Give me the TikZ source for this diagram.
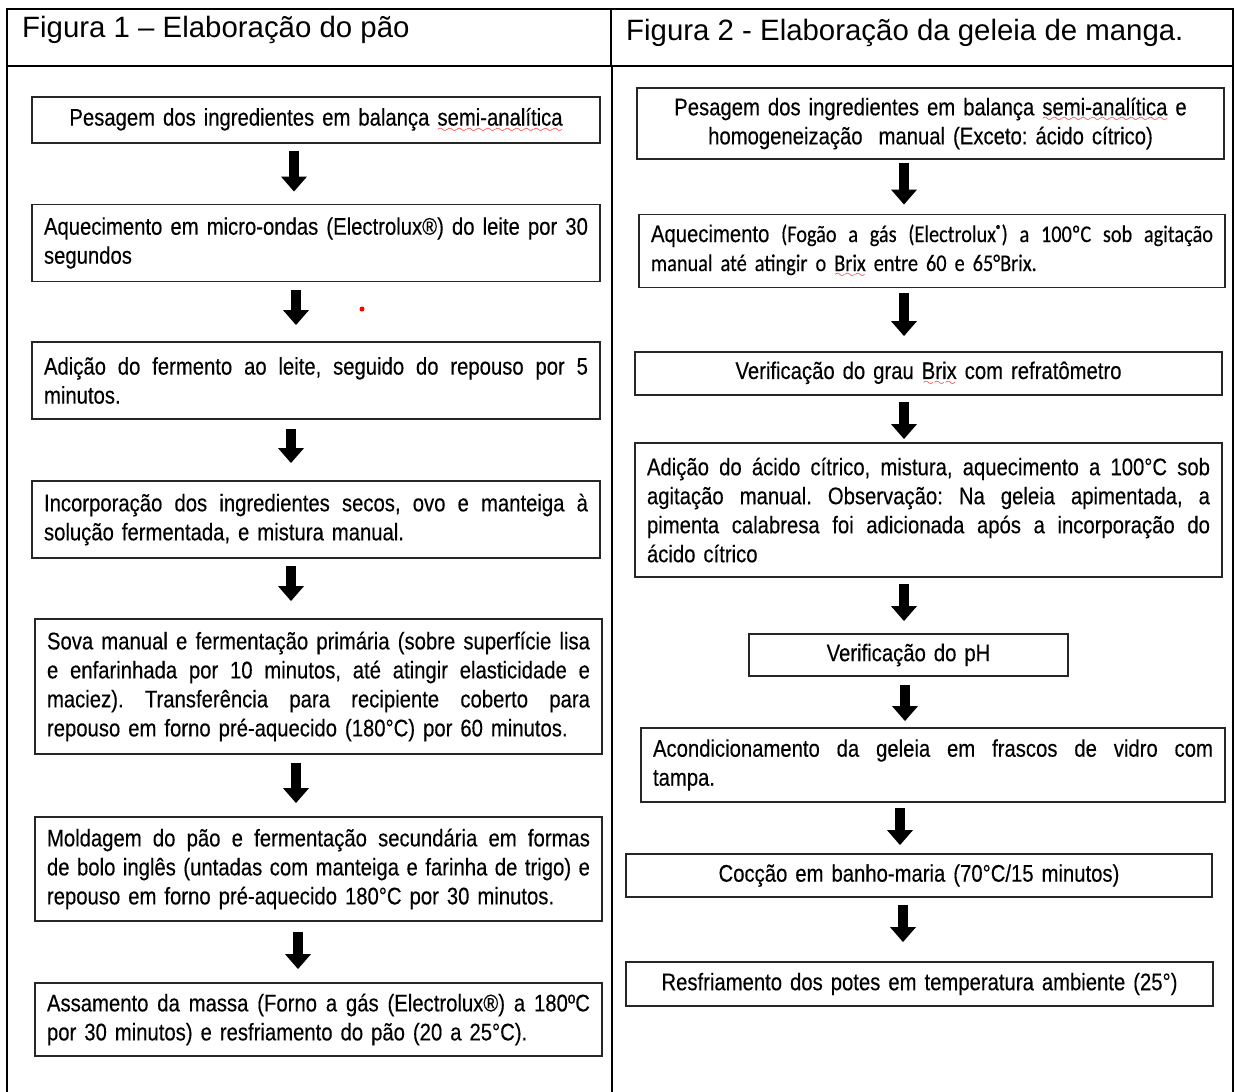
\documentclass[tikz,border=0pt]{standalone}
\usepackage{fontspec}
\setmainfont{Liberation Sans}
\newfontfamily\titlefont{Liberation Sans}
\newfontfamily\boxfont[FakeStretch=0.845,FakeBold=0.3]{Liberation Sans}
\newfontfamily\carlfont[FakeStretch=0.845,FakeBold=0.3]{Carlito}
\usetikzlibrary{arrows.meta}
\font\wavefnt=lasy6 scaled 1800
\newcommand\redwave[1]{\setbox0\hbox{#1}\rlap{\color{red}\lower6.5pt\hbox to\wd0{\xleaders\hbox{\wavefnt\char58}\hfill}}\box0\relax}
\newcommand\jline[1]{\leavevmode\hbox to\hsize{\spaceskip=\fontdimen2\font plus 1fil minus 0.3\fontdimen2\font\relax #1}\\}
\newcommand\regsup{{\fontsize{13}{13}\selectfont\raisebox{8pt}{®}}}
\newcommand\flow[5]{\draw[flowarrow, shorten <=#4pt, shorten >=#5pt] ([xshift=#3pt]#1.south) coordinate (tmp) -- (tmp |- #2.north);}
\tikzset{
  stepbox/.style={draw=black!85, line width=1.8pt, inner xsep=12pt, inner ysep=0pt,
    font=\boxfont\fontsize{24}{29}\selectfont\frenchspacing, align=left},
  flowarrow/.style={line width=10pt, -{Triangle[width=25pt,length=15pt]}},
  thickframe/.style={line width=2pt, line cap=rect},
  thinframe/.style={line width=1.2pt},
  title/.style={anchor=base west, inner sep=0pt, font=\titlefont\fontsize{29.4}{34}\selectfont},
}
\begin{document}
\begin{tikzpicture}[x=1pt,y=-1pt]
\useasboundingbox (0,0) rectangle (1237,1092);
% frame
\draw[thinframe] (7,66) -- (1233,66);
\draw[thinframe] (612,66) -- (612,1092);
\draw[thickframe] (7,1092) -- (7,9) -- (1233,9) -- (1233,1092);
\draw[thickframe] (611,9) -- (611,66);
\draw[line width=2pt] (7,66) -- (16,66);
\draw[line width=2pt] (611,66) -- (624,66);
% titles
\node[title] (t1) at (22,37) {Figura 1 – Elaboração do pão};
\node[title] (t2) at (626,40) {Figura 2 - Elaboração da geleia de manga.};
% left column
\node[stepbox, minimum width=568pt, minimum height=46pt, text width=544pt, align=center] (b1) at (316,120)
  {Pesagem dos ingredientes em balança \redwave{semi-analítica}};
\node[stepbox, minimum width=568pt, minimum height=77pt, text width=544pt] (b2) at (316,243)
  {\jline{Aquecimento em micro-ondas (Electrolux®) do leite por 30}segundos};
\node[stepbox, minimum width=568pt, minimum height=77pt, text width=544pt] (b3) at (316,380.5)
  {\jline{Adição do fermento ao leite, seguido do repouso por 5}minutos.};
\node[stepbox, minimum width=568pt, minimum height=77pt, text width=544pt] (b4) at (316,519.5)
  {\jline{Incorporação dos ingredientes secos, ovo e manteiga à}solução fermentada, e mistura manual.};
\node[stepbox, minimum width=567pt, minimum height=135pt, text width=543pt] (b5) at (318.5,686.5)
  {\jline{Sova manual e fermentação primária (sobre superfície lisa}\jline{e enfarinhada por 10 minutos, até atingir elasticidade e}\jline{maciez). Transferência para recipiente coberto para}repouso em forno pré-aquecido (180°C) por 60 minutos.};
\node[stepbox, minimum width=567pt, minimum height=104pt, text width=543pt] (b6) at (318.5,869)
  {\jline{Moldagem do pão e fermentação secundária em formas}\jline{de bolo inglês (untadas com manteiga e farinha de trigo) e}repouso em forno pré-aquecido 180°C por 30 minutos.};
\node[stepbox, minimum width=567pt, minimum height=73pt, text width=543pt] (b7) at (318.5,1019.5)
  {\jline{Assamento da massa (Forno a gás (Electrolux®) a 180ºC}por 30 minutos) e resfriamento do pão (20 a 25°C).};
\fill[red] (362,309) circle (2.5pt);
% right column
\node[stepbox, minimum width=587pt, minimum height=71pt, text width=563pt, align=center] (r1) at (930.5,123.5)
  {Pesagem dos ingredientes em balança \redwave{semi-analítica} e\\homogeneização\ \ manual (Exceto: ácido cítrico)};
\node[stepbox, minimum width=586pt, minimum height=73pt, text width=562pt] (r2) at (932,251)
  {\jline{Aquecimento {\carlfont (Fogão a gás (Electrolux\regsup) a 100ºC sob agitação}}{\carlfont manual até atingir o \redwave{Brix} entre 60 e 65°Brix.}};
\node[stepbox, minimum width=587pt, minimum height=43pt, text width=563pt, align=center] (r3) at (928.5,373.5)
  {Verificação do grau \redwave{Brix} com refratômetro};
\node[stepbox, minimum width=587pt, minimum height=134pt, text width=563pt] (r4) at (928.5,510)
  {\jline{Adição do ácido cítrico, mistura, aquecimento a 100°C sob}\jline{agitação manual. Observação: Na geleia apimentada, a}\jline{pimenta calabresa foi adicionada após a incorporação do}ácido cítrico};
\node[stepbox, minimum width=319pt, minimum height=42pt, text width=295pt, align=center] (r5) at (908.5,655)
  {Verificação do pH};
\node[stepbox, minimum width=584pt, minimum height=74pt, text width=560pt] (r6) at (933,765)
  {\jline{Acondicionamento da geleia em frascos de vidro com}tampa.};
\node[stepbox, minimum width=586pt, minimum height=43pt, text width=562pt, align=center] (r7) at (919,875.5)
  {Cocção em banho-maria (70°C/15 minutos)};
\node[stepbox, minimum width=587pt, minimum height=44pt, text width=563pt, align=center] (r8) at (919.5,984)
  {Resfriamento dos potes em temperatura ambiente (25°)};
% arrows left
\flow{b1}{b2}{-22}{7}{12}
\flow{b2}{b3}{-20}{8}{16}
\flow{b3}{b4}{-25}{9}{17}
\flow{b4}{b5}{-25}{7}{17}
\flow{b5}{b6}{-22.5}{8}{13}
\flow{b6}{b7}{-20.5}{10}{13}
% arrows right
\flow{r1}{r2}{-26.5}{3}{9}
\flow{r2}{r3}{-28}{5}{15}
\flow{r3}{r4}{-24.5}{6}{3}
\flow{r4}{r5}{-24.5}{6}{12}
\flow{r5}{r6}{-3.5}{8}{6}
\flow{r6}{r7}{-33}{5}{8}
\flow{r7}{r8}{-16}{7}{19}
\end{tikzpicture}
\end{document}
